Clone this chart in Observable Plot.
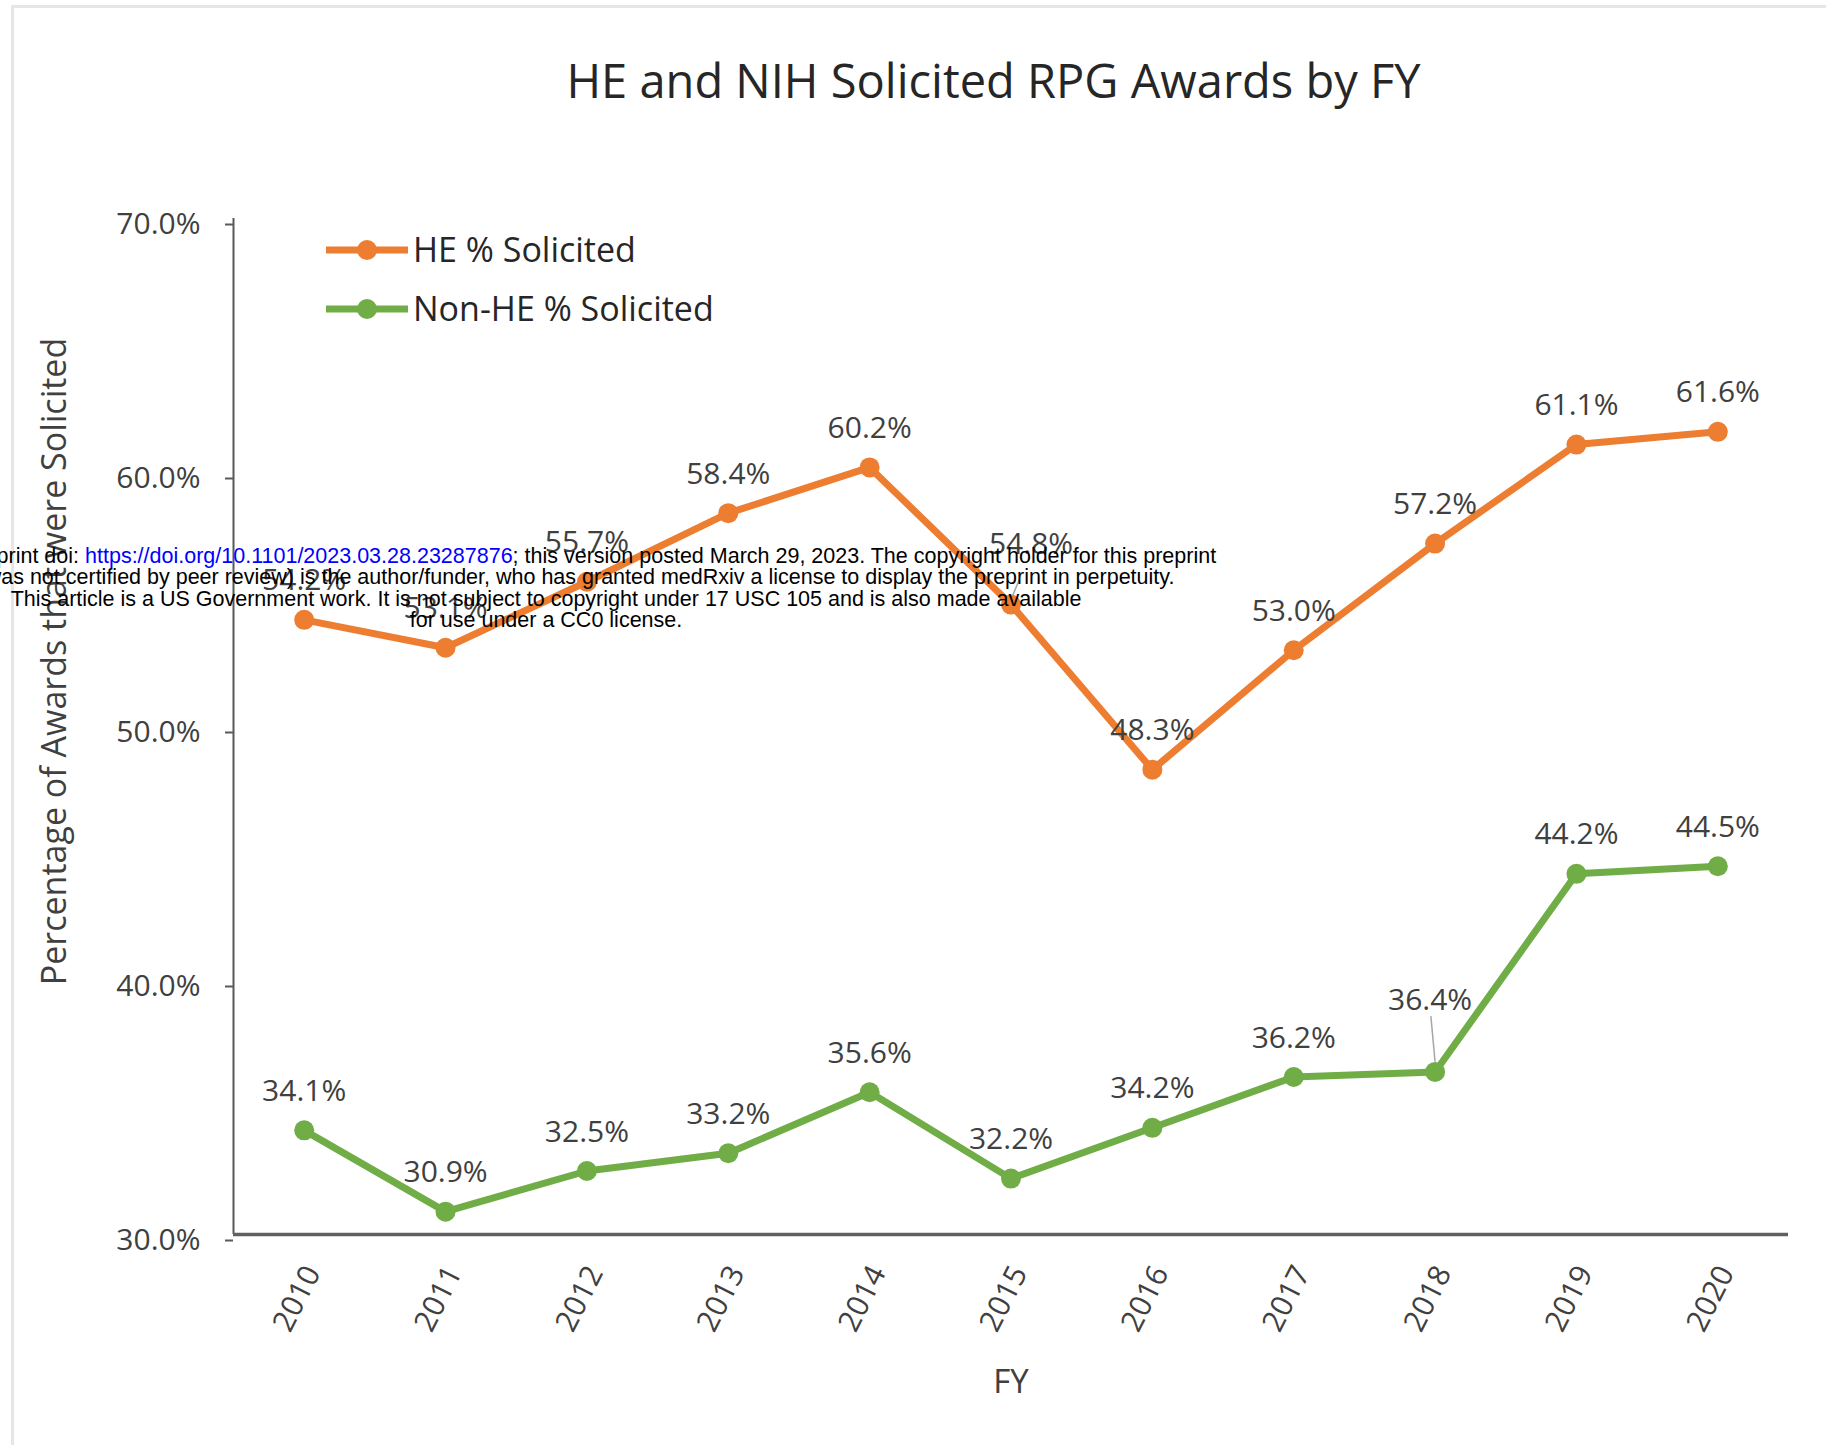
<!DOCTYPE html>
<html>
<head>
<meta charset="utf-8">
<script src="https://cdn.jsdelivr.net/npm/d3@7"></script>
<script src="https://cdn.jsdelivr.net/npm/@observablehq/plot@0.6"></script>
<style>
  html, body { margin: 0; padding: 0; background: #fff; }
  body { width: 1826px; height: 1445px; position: relative; overflow: hidden; font-family: "Open Sans", sans-serif; }
  #frame { position: absolute; left: 11px; top: 5px; width: 1830px; height: 1450px; border-top: 3px solid #e6e6e6; border-left: 3px solid #e6e6e6; box-sizing: border-box; }
  #chart { position: absolute; left: 0; top: 0; }
  #legend { position: absolute; left: 0; top: 0; pointer-events: none; }
  #watermark { position: absolute; left: -204px; top: 546px; width: 1500px; text-align: center;
    font-family: "Liberation Sans", Arial, sans-serif; font-size: 21.5px; line-height: 21.4px; color: #000; white-space: nowrap; }
  #watermark a { color: #0000ff; text-decoration: none; }
</style>
</head>
<body>
<div id="frame"></div>
<div id="chart"></div>
<svg id="legend" width="1826" height="1445"></svg>
<div id="watermark">
  <div>medRxiv preprint doi: <a href="https://doi.org/10.1101/2023.03.28.23287876">https://doi.org/10.1101/2023.03.28.23287876</a>; this version posted March 29, 2023. The copyright holder for this preprint</div>
  <div>(which was not certified by peer review) is the author/funder, who has granted medRxiv a license to display the preprint in perpetuity.</div>
  <div>This article is a US Government work. It is not subject to copyright under 17 USC 105 and is also made available</div>
  <div>for use under a CC0 license.</div>
</div>
<script>
// ---- data ----
const years = [2010, 2011, 2012, 2013, 2014, 2015, 2016, 2017, 2018, 2019, 2020];
const heValues = [54.2, 53.1, 55.7, 58.4, 60.2, 54.8, 48.3, 53.0, 57.2, 61.1, 61.6];
const nonHeValues = [34.1, 30.9, 32.5, 33.2, 35.6, 32.2, 34.2, 36.2, 36.4, 44.2, 44.5];
const seriesNames = ["HE % Solicited", "Non-HE % Solicited"];
const yTicks = [30, 40, 50, 60, 70];
const xTickLabels = years.map(String);
const titleText = "HE and NIH Solicited RPG Awards by FY";
const xLabel = "FY";
const yLabel = "Percentage of Awards that were Solicited";

// ---- styles ----
const colors = ["#ED7D31", "#70AD47"];
const textColor = "#404040";

const rows = years.flatMap((yr, i) => [
  {year: yr, value: heValues[i], series: seriesNames[0]},
  {year: yr, value: nonHeValues[i], series: seriesNames[1]}
]);
// labels with a manual offset (as in the original chart)
const isShiftedHE = d => d.series === seriesNames[0] && d.year === 2015;
const isShiftedNon = d => d.series === seriesNames[1] && d.year === 2018;
const normalLabels = rows.filter(d => !isShiftedHE(d) && !isShiftedNon(d));
const heShifted = rows.filter(isShiftedHE);
const nonShifted = rows.filter(isShiftedNon);
const fmt = d => d.value.toFixed(1) + "%";
const xDomain = [years[0] - 0.5, years[years.length - 1] + 0.5];

const chart = Plot.plot({
  width: 1826,
  height: 1445,
  marginLeft: 233,
  marginRight: 38,
  marginTop: 218,
  marginBottom: 211,
  style: {fontFamily: "'Open Sans', sans-serif", background: "transparent", overflow: "visible"},
  x: {type: "linear", domain: xDomain, axis: null},
  y: {domain: [yTicks[0], yTicks[yTicks.length - 1]], axis: null},
  color: {domain: seriesNames, range: colors},
  marks: [
    // y axis
    Plot.axisY({ticks: yTicks, tickFormat: d => d.toFixed(1) + "%", tickSize: 8, tickPadding: 25,
      fontSize: 30, fill: textColor, stroke: "#595959", strokeWidth: 2, dy: 6, label: null}),
    Plot.ruleX([xDomain[0]], {y1: yTicks[0], y2: yTicks[yTicks.length - 1], stroke: "#595959", strokeWidth: 2}),
    // x axis line
    Plot.ruleY([yTicks[0]], {x1: xDomain[0], x2: xDomain[1], stroke: "#606060", strokeWidth: 3.5}),
    // x tick labels
    Plot.text(xTickLabels, {x: d => +d, frameAnchor: "bottom", text: d => d, rotate: -63, textAnchor: "end",
      dx: 17, dy: 38, fontSize: 30, fill: textColor}),
    // axis titles
    Plot.text([xLabel], {frameAnchor: "bottom", dy: 158, fontSize: 33, fill: textColor}),
    Plot.text([yLabel], {frameAnchor: "left", textAnchor: "middle", dx: -178, dy: -65, rotate: -90, fontSize: 34, fill: textColor}),
    // title
    Plot.text([titleText], {frameAnchor: "top", dx: -17.5, dy: -121, lineAnchor: "bottom", fontSize: 47, fill: "#262626"}),
    // leader lines
    Plot.link(nonShifted, {x1: "year", x2: d => d.year - 0.03, y1: d => d.value + 0.4, y2: d => d.value + 2.2, stroke: "#a6a6a6", strokeWidth: 1.5}),
    Plot.link(heShifted, {x1: "year", x2: d => d.year + 0.06, y1: d => d.value + 0.2, y2: d => d.value + 1.0, stroke: "#a6a6a6", strokeWidth: 1.5}),
    // series
    Plot.line(rows, {x: "year", y: "value", z: "series", stroke: "series", strokeWidth: 7, strokeLinejoin: "round"}),
    Plot.dot(rows, {x: "year", y: "value", fill: "series", r: 10}),
    // data labels
    Plot.text(normalLabels, {x: "year", y: "value", text: fmt, dy: -39, fontSize: 30, fill: textColor}),
    Plot.text(heShifted, {x: "year", y: "value", text: fmt, dx: 20, dy: -60, fontSize: 30, fill: textColor}),
    Plot.text(nonShifted, {x: "year", y: "value", text: fmt, dx: -5, dy: -72, fontSize: 30, fill: textColor})
  ]
});
document.getElementById("chart").appendChild(chart);

// ---- legend ----
const lg = d3.select("#legend");
const legendRows = [250, 309];
seriesNames.forEach((name, i) => {
  const y = legendRows[i];
  lg.append("line").attr("x1", 326).attr("x2", 408).attr("y1", y).attr("y2", y)
    .attr("stroke", colors[i]).attr("stroke-width", 7);
  lg.append("circle").attr("cx", 367).attr("cy", y).attr("r", 10).attr("fill", colors[i]);
  lg.append("text").attr("x", 413).attr("y", y).attr("dy", "0.35em")
    .attr("font-family", "'Open Sans', sans-serif").attr("font-size", 34).attr("fill", "#262626")
    .text(name);
});
</script>
</body>
</html>
